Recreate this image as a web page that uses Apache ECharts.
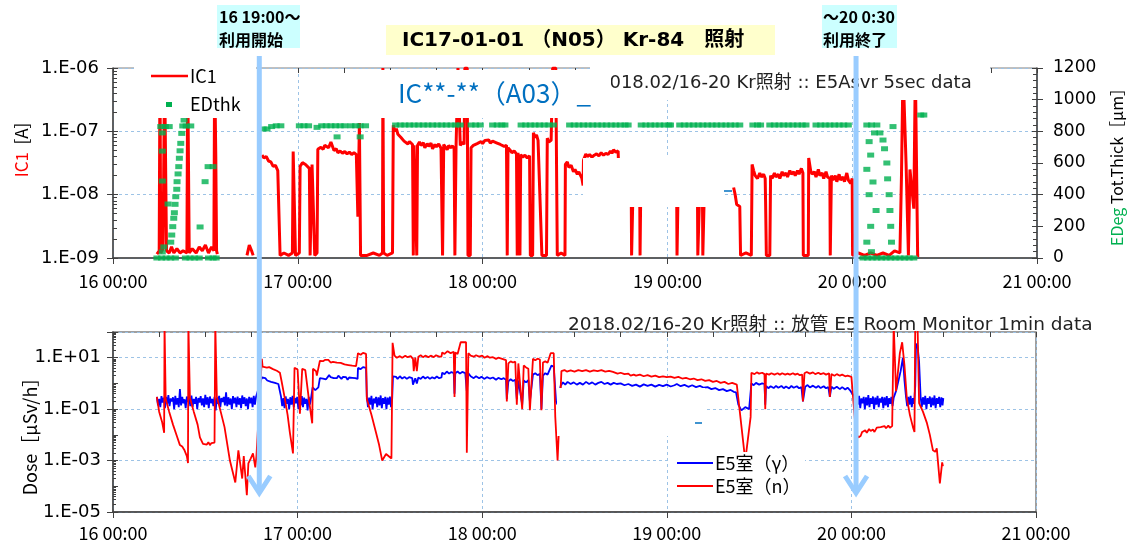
<!DOCTYPE html>
<html><head><meta charset="utf-8">
<script src="https://cdn.jsdelivr.net/npm/echarts@6/dist/echarts.min.js"></script>
<style>html,body{margin:0;padding:0;background:#fff}#c{width:1136px;height:546px}</style>
</head><body><div id="c"></div>
<script>
const FONT = '"Noto Sans CJK JP", "Noto Sans", sans-serif';
const LATIN = '"DejaVu Sans", "Noto Sans CJK JP", sans-serif';

// ---- tick labels ----
const xTickLabels = ['16 00:00','17 00:00','18 00:00','19 00:00','20 00:00','21 00:00'];
const icTickValues = [1e-9, 1e-8, 1e-7, 1e-6];
const icTickLabels = ['1.E-09','1.E-08','1.E-07','1.E-06'];
const doseTickValues = [1e-5, 1e-3, 1e-1, 1e1];
const doseTickLabels = ['1.E-05','1.E-03','1.E-01','1.E+01'];
const arrowTimes = [19, 96.5];   // hours after 16 00:00

// ---- data: [hours after 16 00:00, value] ----
const icCurrent = [
 [5.7,1.15e-9],[6.0,1.3e-9],[6.1,1e-6],[6.2,1.2e-9],[6.5,1.4e-9],[6.7,1e-6],[6.85,1e-6],[6.95,1.3e-9],[7.3,1.2e-9],[7.6,1.5e-9],[7.9,1.2e-9],[8.3,1.4e-9],[8.7,1.2e-9],[9.1,1.3e-9],[9.6,1.2e-9],[9.7,1e-6],[9.8,1e-6],[9.9,1.2e-9],[10.3,1.4e-9],[10.8,1.2e-9],[11.2,1.5e-9],[11.6,1.3e-9],[12.0,1.6e-9],[12.4,1.2e-9],[12.8,1.5e-9],[13.1,1.3e-9],[13.2,1e-6],[13.35,4e-8],[13.45,1.3e-9],[13.55,1.15e-9],[13.6,null],
 [17.4,1.1e-9],[17.7,1.6e-9],[18.0,1.3e-9],[18.2,1.1e-9],[18.3,null],
 [19.35,4.2e-8],[19.6,3.8e-8],[19.9,4.0e-8],[20.2,3.4e-8],[20.5,3.3e-8],[20.8,2.8e-8],[21.1,2.9e-8],[21.4,2.4e-8],[21.65,2.3e-8],[21.7,1.1e-9],[22.2,1.2e-9],[22.8,1.1e-9],[23.3,1.2e-9],[23.4,4.8e-8],[23.6,4.5e-8],[23.7,1.1e-9],[24.2,1.2e-9],[24.3,2.8e-8],[24.6,3.2e-8],[25.0,3.0e-8],[25.5,2.6e-8],[25.6,1.1e-9],[25.8,1.1e-9],[25.85,3.0e-8],[26.1,2.9e-8],[26.2,1.1e-9],[26.5,1.2e-9],[26.6,5.2e-8],[27.0,5.6e-8],[27.3,5.2e-8],[27.5,6.0e-8],[28.0,5.5e-8],[28.3,6.8e-8],[28.7,5.0e-8],[29.0,5.3e-8],[29.2,4.6e-8],[29.5,4.9e-8],[29.8,4.5e-8],[30.1,4.8e-8],[30.4,4.4e-8],[30.7,4.7e-8],[31.0,4.3e-8],[31.3,4.6e-8],[31.6,4.3e-8],[31.8,4.5e-9],[32.0,1.35e-7],[32.15,1.1e-9],[33.0,1.1e-9],[33.8,1.2e-9],[34.6,1.1e-9],[35.0,1.2e-9],[35.05,1e-6],[35.15,1.2e-9],[35.6,1.1e-9],[36.3,1.2e-9],
 [36.4,1.25e-7],[36.6,1.0e-7],[36.8,1.1e-7],[37.0,9.0e-8],[37.2,9.5e-8],[37.4,8.0e-8],[37.6,8.5e-8],[37.8,7.0e-8],[38.0,7.5e-8],[38.3,6.3e-8],[38.5,6.9e-8],[38.9,6.2e-8],[39.0,1.1e-9],[39.1,6.0e-8],[39.45,1.1e-9],[39.55,6.0e-8],[39.8,6.8e-8],[40.0,6.0e-8],[40.3,6.6e-8],[40.5,5.5e-8],[40.8,6.4e-8],[41.0,5.8e-8],[41.3,6.5e-8],[41.5,5.3e-8],[41.8,6.2e-8],[42.0,5.7e-8],[42.3,6.3e-8],[42.6,5.4e-8],[42.8,1.1e-9],[42.95,6.2e-8],[43.2,5.6e-8],[43.4,5.1e-8],[43.6,6.0e-8],[43.8,5.5e-8],[44.1,5.9e-8],[44.3,5.3e-8],[44.4,1.1e-9],[44.55,5.6e-8],[44.8,1e-6],[45.0,1e-6],[45.1,6.0e-8],[45.4,6.8e-8],[45.6,6.2e-8],[45.7,1e-6],[46.0,1e-6],[46.1,1.1e-9],[46.4,1.1e-9],[46.5,5.5e-8],[46.8,6.0e-8],[47.0,5.6e-8],[47.3,6.4e-8],[47.5,6.0e-8],[47.8,6.9e-8],[48.0,6.4e-8],[48.3,7.2e-8],[48.5,6.7e-8],[48.8,7.3e-8],[49.0,6.5e-8],[49.3,7.0e-8],[49.5,7.4e-8],[49.8,6.6e-8],[50.0,7.0e-8],[50.3,6.2e-8],[50.5,6.6e-8],[50.8,5.8e-8],[51.1,6.0e-8],[51.2,1.1e-9],[51.3,5.5e-8],[51.6,5.0e-8],[51.8,4.6e-8],[52.1,4.9e-8],[52.4,4.4e-8],[52.5,1.1e-9],[52.6,4.6e-8],[52.85,1.1e-9],[52.95,4.3e-8],[53.2,3.9e-8],[53.5,4.2e-8],[53.8,3.8e-8],[54.1,4.1e-8],[54.2,1.1e-9],[54.5,1.1e-9],[54.6,9.5e-8],[54.8,8.0e-8],[55.0,8.8e-8],[55.2,7.2e-8],[55.4,7.6e-8],[55.7,1.1e-9],[56.3,1.1e-9],[56.4,7.8e-8],[56.6,6.8e-8],[56.9,7.2e-8],[57.1,1e-6],[57.5,1e-6],[57.7,1.1e-9],[58.2,1.2e-9],[58.7,1.1e-9],[58.75,3.0e-8],[59.0,3.3e-8],[59.2,2.7e-8],[59.5,2.9e-8],[59.8,2.3e-8],[60.0,2.5e-8],[60.3,2.1e-8],[60.5,2.3e-8],[60.9,1.8e-8],[61.05,1.4e-8],[61.1,3.5e-8],[61.4,4.4e-8],[61.6,4.0e-8],[61.9,4.3e-8],[62.2,3.9e-8],[62.5,4.2e-8],[62.8,4.4e-8],[63.1,4.1e-8],[63.4,4.6e-8],[63.7,4.2e-8],[64.0,4.5e-8],[64.3,4.3e-8],[64.6,4.9e-8],[64.8,4.5e-8],[65.0,5.1e-8],[65.3,4.7e-8],[65.6,4.9e-8],[65.7,2.0e-8],[67.3,1.5e-8],[67.35,1.1e-9],[67.5,1.1e-9],[67.55,1.5e-8],[68.4,1.5e-8],[68.45,1.1e-9],[68.55,1.5e-8],[73.2,1.4e-8],[73.25,1.1e-9],[73.4,1.4e-8],[75.9,1.3e-8],[75.95,1.1e-9],[76.2,1.2e-8],[76.55,1.2e-8],[76.6,1.1e-9],[76.8,1.2e-8],[79.0,1.2e-8],[79.2,null],
 [80.6,1.3e-8],[80.8,1.0e-8],[81.0,7e-9],[81.4,6.5e-9],[81.5,1.1e-9],[82.2,1.2e-9],[82.9,1.1e-9],[83.0,3.0e-8],[83.2,2.4e-8],[83.4,2.0e-8],[83.7,1.8e-8],[84.0,2.2e-8],[84.2,1.9e-8],[84.5,2.1e-8],[84.7,1.8e-8],[84.75,8e-9],[84.85,1.1e-9],[85.3,1.1e-9],[85.4,2.0e-8],[85.6,1.8e-8],[85.9,2.2e-8],[86.1,1.9e-8],[86.4,2.1e-8],[86.6,1.8e-8],[86.9,2.3e-8],[87.1,2.0e-8],[87.4,2.2e-8],[87.6,1.9e-8],[87.9,2.4e-8],[88.1,2.1e-8],[88.4,2.3e-8],[88.6,2.0e-8],[88.9,2.4e-8],[89.1,2.1e-8],[89.4,2.6e-8],[89.6,2.2e-8],[89.65,1.1e-9],[90.3,1.1e-9],[90.35,3.8e-8],[90.6,2.4e-8],[90.8,2.1e-8],[91.1,2.3e-8],[91.3,1.9e-8],[91.6,2.5e-8],[91.8,2.0e-8],[92.1,2.2e-8],[92.3,1.8e-8],[92.6,2.3e-8],[92.8,1.9e-8],[93.1,1.8e-8],[93.15,1.1e-9],[93.3,2.0e-8],[93.5,1.7e-8],[93.8,2.0e-8],[94.0,1.6e-8],[94.3,2.1e-8],[94.5,1.7e-8],[94.8,1.9e-8],[95.0,1.6e-8],[95.3,2.2e-8],[95.5,1.7e-8],[95.8,1.5e-8],[96.0,1.8e-8],[96.05,1.1e-9],[96.8,1.2e-9],[97.6,1.1e-9],[98.4,1.2e-9],[99.2,1.1e-9],[100.0,1.2e-9],[100.8,1.1e-9],[101.5,1.3e-9],[102.2,1.2e-9],[102.4,2e-8],[102.6,1e-6],[102.8,1e-6],[103.0,3e-8],[103.3,1.1e-9],[103.5,2.5e-8],[104.0,6e-9],[104.2,1e-6],[104.4,1e-6],[104.5,1.1e-9],[104.7,1.1e-9]
];

const edThickness = [
 [5.7,0],[6.3,0],[6.9,0],[7.5,0],[8.1,0],[9.4,0],[10.0,0],[10.6,0],[11.2,0],[12.4,0],[13.0,0],[13.4,0],
 [6.2,830],[6.8,830],[7.3,830],[6.4,790],[6.4,675],[6.4,486],[7.15,341],[6.4,38],[6.6,70],[7.5,100],
 [7.63,145],[7.76,198],[7.89,251],[7.97,286],[8.06,339],[8.15,387],[8.28,434],[8.32,482],[8.45,531],[8.54,577],[8.62,630],[8.71,677],[8.8,724],[8.93,787],[9.06,834],[9.23,871],[9.5,834],[10.1,834],
 [11.31,196],[11.96,482],[12.35,577],[13.0,577],
 [19.5,815],[20.0,815],[20.6,830],[21.2,835],[21.8,835],
 [24.2,835],[24.8,835],[25.4,835],
 [26.5,825],[27.1,835],[27.7,835],[28.3,835],[28.9,835],[29.5,835],[30.1,835],[29.1,765],
 [30.9,835],[31.5,835],[32.1,835],[32.8,835],[32.1,765],
 [36.7,840],[37.3,840],[37.9,840],[38.5,840],[39.1,840],[39.7,840],[40.3,840],[40.9,840],[41.5,840],[42.1,840],[42.7,840],[43.3,840],[43.9,840],[44.5,840],[45.1,840],
 [46.5,840],[47.1,840],[47.7,840],
 [49.3,840],[49.9,840],[50.5,840],[50.9,840],
 [53.0,840],[53.6,840],[54.2,840],[54.8,840],[55.4,840],[56.0,840],[56.6,840],[57.2,840],
 [59.3,840],[59.9,840],[60.5,840],[61.1,840],[61.7,840],[62.3,840],[62.9,840],[63.5,840],[64.1,840],[64.7,840],[65.3,840],[65.9,840],[66.5,840],[66.9,840],
 [68.6,840],[69.2,840],[69.8,840],[70.4,840],[71.0,840],[71.6,840],[72.2,840],[72.4,840],
 [73.6,840],[74.2,840],[74.8,840],[75.4,840],[76.0,840],[76.6,840],[77.2,840],[77.8,840],[78.4,840],[79.0,840],[79.6,840],[80.2,840],[80.8,840],[81.4,840],
 [83.1,840],[83.7,840],[84.1,840],
 [85.3,840],[85.9,840],[86.5,840],[87.1,840],[87.7,840],[88.3,840],[88.9,840],[89.5,840],[90.0,840],
 [91.3,840],[91.9,840],[92.5,840],[93.1,840],[93.7,840],[94.3,840],[94.9,840],[95.5,840],
 [97.9,840],[98.5,840],[99.2,840],[98.9,790],[99.6,790],[98.2,735],[98.4,650],[97.9,560],[98.7,480],[98.2,400],[99.1,300],[98.4,200],[97.9,100],[98.5,40],
 [97.4,0],[98.0,0],[98.6,0],[99.2,0],[99.8,0],[100.4,0],[101.0,0],[101.6,0],[102.2,0],[102.8,0],[103.4,0],[104.0,0],
 [100.0,745],[100.2,690],[100.5,600],[100.6,500],[100.8,400],[100.9,300],[101.0,200],[101.1,100],[101.3,830],[104.9,903],[105.3,903]
];

const doseGamma = [
 [5.70,0.3],[5.85,0.14],[6.00,0.25],[6.15,0.12],[6.30,0.32],[6.45,0.18],[6.60,0.28],[6.75,0.11],[6.90,0.3],[7.05,0.16],
 [7.20,0.35],[7.35,0.13],[7.50,0.26],[7.65,0.2],[7.80,0.29],[7.95,0.1],[8.10,0.33],[8.25,0.15],[8.40,0.27],[8.55,0.12],
 [8.70,0.6],[8.85,0.14],[9.00,0.3],[9.15,0.17],[9.30,0.24],[9.45,0.11],[9.60,0.31],[9.75,0.19],[9.90,0.28],[10.05,0.13],
 [10.20,0.34],[10.35,0.12],[10.50,0.25],[10.65,0.16],[10.80,0.3],[10.95,0.1],[11.10,0.27],[11.25,0.18],[11.40,0.32],[11.55,0.14],
 [11.70,0.26],[11.85,0.12],[12.00,0.36],[12.15,0.15],[12.30,0.29],[12.45,0.11],[12.60,0.31],[12.75,0.17],[12.90,0.25],[13.05,0.13],
 [13.20,0.3],[13.35,0.09],[13.50,0.28],[13.65,0.16],[13.80,0.33],[13.95,0.12],[14.10,0.27],[14.25,0.19],[14.40,0.3],[14.55,0.14],
 [14.70,0.45],[14.85,0.13],[15.00,0.29],[15.15,0.15],[15.30,0.26],[15.45,0.1],[15.60,0.32],[15.75,0.17],[15.90,0.28],[16.05,0.12],
 [16.20,0.31],[16.35,0.15],[16.50,0.27],[16.65,0.11],[16.80,0.34],[16.95,0.16],[17.10,0.29],[17.25,0.13],[17.40,0.26],[17.55,0.1],
 [17.70,0.3],[17.85,0.17],[18.00,0.28],[18.15,0.12],[18.30,0.33],[18.45,0.15],[18.60,0.3],
 [19.35,1.7],[19.6,1.45],[19.8,1.6],[20.05,1.3],[20.3,1.45],[20.55,1.15],[20.8,1.3],[21.05,1.05],[21.3,1.15],[21.5,0.95],[21.7,1.0],
 [21.85,0.3],[22.00,0.13],[22.15,0.27],[22.30,0.11],[22.45,0.31],[22.60,0.16],[22.75,0.25],[22.90,0.1],[23.05,0.29],[23.20,0.15],[23.35,0.33],[23.50,0.12],[23.65,0.27],[23.80,0.17],[23.95,0.3],[24.10,0.1],[24.25,0.26],[24.40,0.14],[24.55,0.32],[24.70,0.12],[24.85,0.28],[25.00,0.16],[25.15,0.25],[25.30,0.09],[25.45,0.3],[25.60,0.15],[25.75,0.27],
 [25.95,0.7],[26.3,0.55],[26.7,0.7],[26.9,1.6],[27.1,1.9],[27.3,1.55],[27.5,1.8],[27.7,1.45],[27.9,1.7],[28.1,2.1],[28.3,1.75],[28.5,1.95],[28.7,1.6],[28.9,1.85],[29.1,1.6],[29.3,2.0],[29.5,1.7],[29.7,1.5],[29.9,1.8],[30.1,1.55],[30.3,1.75],[30.5,1.4],[30.7,1.7],[30.9,1.5],[31.1,1.65],[31.3,1.4],[31.5,1.6],[31.8,1.5],[31.85,4.0],[32.2,3.6],[32.5,4.3],[32.9,4.0],
 [33.00,0.3],[33.15,0.12],[33.30,0.28],[33.45,0.15],[33.60,0.33],[33.75,0.1],[33.90,0.26],[34.05,0.17],[34.20,0.3],[34.35,0.12],[34.50,0.29],[34.65,0.14],[34.80,0.34],[34.95,0.11],[35.10,0.27],[35.25,0.16],[35.40,0.3],[35.55,0.1],[35.70,0.28],[35.85,0.15],[36.00,0.31],[36.15,0.12],[36.30,0.27],
 [36.4,1.9],[36.6,1.6],[36.8,1.8],[37.0,1.5],[37.3,1.9],[37.6,1.55],[37.9,1.8],[38.2,1.5],[38.5,1.75],[38.9,1.6],[39.0,0.9],[39.3,1.6],[39.5,1.0],[39.7,1.7],[40.0,1.5],[40.3,1.85],[40.6,1.55],[40.9,1.8],[41.2,1.5],[41.5,1.75],[41.8,1.55],[42.1,1.85],[42.4,1.6],[42.7,1.7],[42.8,2.6],[43.1,2.3],[43.4,2.9],[43.7,2.4],[44.0,2.8],[44.3,2.5],[44.4,0.4],[44.5,2.5],[44.8,2.9],[45.1,2.4],[45.4,2.8],[45.8,2.5],[46.0,0.5],[46.2,2.5],[46.5,1.9],[46.9,1.6],[47.2,1.9],[47.6,1.6],[47.9,1.8],[48.3,1.5],[48.6,1.75],[49.0,1.55],[49.4,1.7],[49.8,1.4],[50.1,1.65],[50.5,1.45],[50.8,1.6],[51.1,1.4],[51.2,0.25],[51.4,1.2],[51.7,1.45],[52.0,1.25],[52.3,1.4],[52.5,0.25],[52.7,1.3],[52.9,1.1],[53.2,0.15],[53.4,1.3],[53.7,1.1],[54.0,1.35],[54.2,0.2],[54.6,2.2],[54.9,2.5],[55.2,2.1],[55.5,2.4],[55.7,0.1],[55.9,2.0],[56.2,2.5],[56.5,2.2],[57.0,4.9],[57.3,4.5],[57.6,0.2],[57.8,0.15],
 [58.2,0.8],[58.5,1.1],[58.8,0.9],[59.1,1.15],[59.5,0.95],[59.9,1.1],[60.3,0.9],[60.7,1.05],[61.1,0.9],[61.5,1.15],[61.9,0.95],[62.3,1.1],[62.7,0.9],[63.1,1.05],[63.5,1.15],[63.9,0.95],[64.3,1.05],[64.7,0.9],[65.1,1.05],[65.5,0.95],[66.0,1.0],[66.5,0.85],[67.0,0.95],[67.5,0.8],[68.0,0.9],[68.5,0.75],[69.0,0.92],[69.5,0.8],[70.0,0.9],[70.5,0.75],[71.0,0.88],[71.5,0.78],[72.0,0.9],[72.5,0.76],[73.0,0.85],[73.3,0.95],[73.8,0.78],[74.3,0.88],[74.8,0.74],[75.3,0.85],[75.8,0.72],[76.3,0.8],[76.8,0.68],[77.3,0.72],[77.8,0.6],[78.3,0.66],[78.8,0.55],[79.3,0.6],[79.8,0.5],[80.3,0.56],[80.7,0.47],[81.0,0.45],[81.3,0.15],[81.7,0.09],[82.2,0.12],[82.7,0.1],
 [83.0,1.0],[83.3,0.85],[83.6,1.05],[84.0,0.9],[84.4,1.0],[84.7,0.95],[84.8,0.15],[84.9,0.8],[85.2,0.65],[85.5,0.78],[85.9,0.66],[86.2,0.8],[86.5,0.68],[86.9,0.8],[87.2,0.65],[87.5,0.76],[87.9,0.64],[88.2,0.8],[88.5,0.68],[88.9,0.78],[89.2,0.65],[89.5,0.72],[89.7,0.2],[90.0,0.75],[90.3,0.86],[90.6,0.7],[91.0,0.82],[91.4,0.68],[91.7,0.8],[92.0,0.66],[92.4,0.78],[92.7,0.65],[93.0,0.72],[93.2,0.3],[93.4,0.75],[93.7,0.62],[94.1,0.74],[94.5,0.6],[94.8,0.72],[95.2,0.58],[95.5,0.68],[95.8,0.55],[96.0,0.6],
 [96.40,0.3],[96.55,0.12],[96.70,0.28],[96.85,0.15],[97.00,0.33],[97.15,0.11],[97.30,0.26],[97.45,0.17],[97.60,0.3],[97.75,0.1],[97.90,0.29],[98.05,0.14],[98.20,0.35],[98.35,0.12],[98.50,0.27],[98.65,0.16],[98.80,0.31],[98.95,0.1],[99.10,0.28],[99.25,0.15],[99.40,0.33],[99.55,0.12],[99.70,0.26],[99.85,0.18],[100.00,0.3],[100.15,0.11],[100.30,0.29],[100.45,0.14],[100.60,0.32],[100.75,0.12],[100.90,0.27],[101.05,0.16],[101.20,0.3],[101.35,0.13],[101.50,0.28],
 [101.8,0.5],[102.1,1.2],[102.4,3],[102.7,10],[102.9,1.3],[103.1,0.3],
 [103.25,0.13],[103.40,0.3],[103.55,0.15],[103.70,0.33],[103.85,0.12],[104.00,0.27],[104.15,0.16],[104.3,0.8],[104.4,35],[104.6,29],[104.8,7],[105.0,0.3],
 [105.15,0.12],[105.30,0.29],[105.45,0.15],[105.60,0.33],[105.75,0.1],[105.90,0.27],[106.05,0.16],[106.20,0.31],[106.35,0.12],[106.50,0.28],[106.65,0.14],[106.80,0.34],[106.95,0.11],[107.10,0.27],[107.25,0.16],[107.40,0.3],[107.55,0.12],[107.70,0.29],[107.85,0.14],[107.95,0.27]
];

const doseNeutron = [
 [5.7,0.3],[6.0,0.08],[6.4,0.03],[6.65,0.012],[6.7,200],[6.8,200],[6.85,0.25],[7.3,0.08],[7.8,0.025],[8.3,0.009],[8.7,0.004],[9.0,0.0035],[9.3,0.0025],[9.6,0.0015],[9.75,8e-4],[9.8,200],[9.9,200],[10.0,0.28],[10.5,0.08],[11.0,0.025],[11.3,0.008],[11.5,0.006],[11.7,0.0045],[11.9,0.005],[12.2,0.0042],[12.4,0.0052],[12.6,0.004],[12.8,0.0048],[13.0,0.0042],[13.2,0.005],[13.3,200],[13.4,200],[13.5,0.3],[14.0,0.08],[14.5,0.02],[15.2,1e-3],[15.9,1.4e-4],[16.3,0.0025],[16.8,2e-4],[17.0,1.5e-3],[17.4,4.5e-5],[17.6,7.8e-4],[17.9,1.2e-3],[18.2,1.9e-3],[18.5,5.4e-4],[18.65,1.5e-3],
 [19.35,9],[19.45,4.5],[19.7,4.8],[20.0,4.1],[20.3,4.3],[20.5,3.7],[20.8,3.6],[21.0,3.2],[21.3,3.1],[21.5,2.8],[21.7,2.6],[21.9,1.3],[22.3,0.3],[22.7,0.06],[23.0,0.012],[23.4,0.0019],[23.6,4.1],[24.0,3.5],[24.3,0.067],[24.6,3.7],[25.0,3.3],[25.5,0.2],[25.9,0.028],[26.0,3.7],[26.4,3.0],[26.5,2.0],[26.9,7.6],[27.1,6.6],[27.3,7.3],[27.6,8.3],[27.8,7.6],[28.0,8.2],[28.3,6.5],[28.6,6.9],[28.8,6.0],[29.1,6.4],[29.3,5.8],[29.6,6.3],[29.8,5.9],[30.1,5.5],[30.3,5.8],[30.6,5.2],[30.8,5.4],[31.1,4.9],[31.3,5.1],[31.6,4.7],[31.8,4.8],[31.85,15],[32.2,13],[32.5,15.5],[32.9,14],[33.0,0.25],[33.6,0.06],[34.2,0.012],[34.6,0.004],[35.0,1e-3],[35.5,1.8e-3],[36.2,1.2e-3],[36.35,38],[36.6,12],
 [36.9,10],[37.3,11.5],[37.6,10],[38.0,12],[38.3,10.5],[38.7,11.5],[39.0,9],[39.1,3],[39.3,10],[39.5,3],[39.7,11],[40.0,12.5],[40.3,10.5],[40.6,12],[41.0,10.5],[41.3,12],[41.7,10.5],[42.0,12.5],[42.4,11],[42.7,11],[42.8,16],[43.1,14],[43.5,18],[43.9,15],[44.3,17],[44.4,0.3],[44.5,16],[44.8,14],[45.2,40],[45.9,40],[46.0,0.002],[46.2,15],[46.5,12],[46.9,11],[47.2,12.5],[47.6,11],[48.0,12],[48.3,10],[48.7,11.5],[49.0,10],[49.4,10.5],[49.8,9],[50.1,10],[50.5,9.2],[50.8,8.6],[51.1,8],[51.2,0.2],[51.4,6],[51.7,7.2],[52.0,6.5],[52.3,7],[52.5,0.15],[52.7,6],[52.9,5.2],[53.2,0.1],[53.4,5],[53.7,4.2],[54.0,3.7],[54.2,0.09],[54.6,9],[54.9,8],[55.2,9.2],[55.5,8.5],[55.7,0.09],[55.9,6.5],[56.2,7.2],[56.5,6.4],[56.9,15],[57.3,15],[57.5,0.05],[57.8,1e-3],
 [58.3,3],[58.7,3.3],[59.0,2.9],[59.5,3.2],[60.0,2.9],[60.5,3.3],[61.0,3.0],[61.5,3.3],[62.0,2.9],[62.5,3.2],[63.0,3.0],[63.5,3.3],[64.0,2.9],[64.5,3.1],[65.0,2.8],[65.6,2.4],[66.0,2.6],[66.5,2.3],[67.0,2.4],[67.3,2.0],[67.7,2.2],[68.0,2.0],[68.5,2.2],[69.0,1.9],[69.5,2.1],[70.0,1.85],[70.5,2.0],[71.0,1.75],[71.5,1.9],[72.0,1.75],[72.5,1.85],[73.0,1.65],[73.5,1.8],[74.0,1.55],[74.5,1.65],[75.0,1.45],[75.5,1.55],[76.0,1.35],[76.5,1.45],[77.0,1.25],[77.5,1.35],[78.0,1.15],[78.5,1.25],[79.0,1.05],[79.5,1.15],[80.0,0.95],[80.5,1.05],[81.1,0.9],[82.2,1e-3],[82.9,0.05],[83.0,2.6],[83.4,2.3],[83.7,2.7],[84.0,2.4],[84.4,2.6],[84.7,2.3],[84.8,0.1],[84.9,2.4],[85.3,2.2],[85.6,2.5],[86.0,2.2],[86.4,2.5],[86.7,2.2],[87.0,2.5],[87.4,2.2],[87.7,2.4],[88.0,2.2],[88.4,2.5],[88.7,2.2],[89.0,2.4],[89.3,2.1],[89.6,2.2],[89.7,0.2],[89.9,2.5],[90.2,2.8],[90.6,2.4],[91.0,2.7],[91.3,2.3],[91.7,2.6],[92.0,2.3],[92.4,2.5],[92.7,2.2],[93.1,2.5],[93.2,0.3],[93.4,2.3],[93.8,2.0],[94.1,2.3],[94.5,2.0],[94.8,2.2],[95.2,1.9],[95.5,2.0],[96.0,1.8],
 [96.6,0.012],[96.9,0.008],[97.2,0.009],[97.4,0.013],[97.6,0.011],[97.8,0.015],[98.0,0.012],[98.3,0.017],[98.5,0.014],[98.8,0.016],[99.0,0.013],[99.3,0.019],[99.5,0.016],[99.8,0.02],[100.0,0.017],[100.3,0.022],[100.5,0.018],[100.8,0.023],[101.0,0.019],[101.3,0.022],[101.5,200],[101.8,0.5],[102.3,15],[102.6,40],[102.9,5],[103.2,0.28],[103.6,0.06],[104.0,0.02],[104.2,0.013],[104.3,200],[104.6,200],[104.8,0.17],[105.3,0.08],[105.8,0.03],[106.2,0.01],[106.6,0.0025],[106.9,0.0022],[107.1,0.003],[107.5,1.3e-4],[107.8,8.5e-4],[107.9,6e-4]
];

// ---- helpers ----
function logLabel(values, labels) {
  return function (v) {
    const i = values.findIndex(t => Math.abs(Math.log10(t) - Math.log10(v)) < 0.01);
    return i >= 0 ? labels[i] : '';
  };
}
const AX = '#404040';
const GRID_LINE = { show: true, lineStyle: { color: '#9dc3e6', type: [3, 3], width: 1 } };
function mainX(gridIndex, margin) {
  return { type: 'value', gridIndex, min: 0, max: 120, interval: 24,
    axisLine: { show: true, onZero: false, lineStyle: { color: AX, width: 1.5 } },
    axisTick: { show: true, length: 6, lineStyle: { color: AX } },
    axisLabel: { formatter: v => xTickLabels[Math.round(v / 24)] || '', color: '#000', fontSize: 18, fontFamily: FONT, margin },
    splitLine: GRID_LINE };
}
function minorX(gridIndex) {
  return { type: 'value', gridIndex, min: 0, max: 120, interval: 6,
    axisLine: { show: false, onZero: false }, axisTick: { show: true, inside: true, length: 5, lineStyle: { color: AX } },
    axisLabel: { show: false }, splitLine: { show: false } };
}

const option = {
  animation: false,
  backgroundColor: '#fff',
  grid: [
    { left: 113, top: 68, width: 924, height: 190, show: true, borderColor: '#808080', borderWidth: 1 },
    { left: 113, top: 332, width: 923, height: 180, show: true, borderColor: '#808080', borderWidth: 1.5 }
  ],
  xAxis: [ mainX(0, 14), minorX(0), mainX(1, 12), minorX(1) ],
  yAxis: [
    { type: 'log', gridIndex: 0, position: 'left', min: 1e-9, max: 1e-6,
      axisLine: { show: true, onZero: false, lineStyle: { color: AX, width: 1.5 } },
      axisTick: { show: true, length: 6, lineStyle: { color: AX } },
      axisLabel: { formatter: logLabel(icTickValues, icTickLabels), color: '#000', fontSize: 18, fontFamily: LATIN, margin: 14 },
      splitLine: GRID_LINE },
    { type: 'value', gridIndex: 0, position: 'right', min: 0, max: 1200, interval: 200,
      axisLine: { show: true, onZero: false, lineStyle: { color: AX, width: 1.5 } },
      axisTick: { show: true, length: 6, lineStyle: { color: AX } },
      axisLabel: { formatter: v => String(v), color: '#000', fontSize: 17, fontFamily: LATIN, margin: 16 },
      splitLine: { show: false } },
    { type: 'log', gridIndex: 0, position: 'left', min: 1e-9, max: 1e-6,
      axisLine: { show: false, onZero: false }, axisLabel: { show: false }, splitLine: { show: false },
      axisTick: { show: true, inside: true, length: 5, lineStyle: { color: AX } },
      minorTick: { show: true, splitNumber: 9, length: 4, lineStyle: { color: AX } } },
    { type: 'value', gridIndex: 0, position: 'right', min: 0, max: 1200, interval: 200,
      axisLine: { show: false, onZero: false }, axisLabel: { show: false }, splitLine: { show: false },
      axisTick: { show: true, inside: true, length: 5, lineStyle: { color: AX } },
      minorTick: { show: true, splitNumber: 5, length: 4, lineStyle: { color: AX } } },
    { type: 'log', gridIndex: 1, position: 'left', min: 1e-5, max: 100, interval: 2,
      axisLine: { show: true, onZero: false, lineStyle: { color: AX, width: 1.5 } },
      axisTick: { show: true, length: 6, lineStyle: { color: AX } },
      axisLabel: { formatter: logLabel(doseTickValues, doseTickLabels), color: '#000', fontSize: 18, fontFamily: LATIN, margin: 12 },
      splitLine: GRID_LINE },
    { type: 'log', gridIndex: 1, position: 'left', min: 1e-5, max: 100, interval: 1,
      axisLine: { show: false, onZero: false }, axisLabel: { show: false }, splitLine: { show: false },
      axisTick: { show: true, inside: true, length: 5, lineStyle: { color: AX } },
      minorTick: { show: true, splitNumber: 9, length: 3, lineStyle: { color: AX } } }
  ],
  series: [
    { name: 'IC1', type: 'line', xAxisIndex: 0, yAxisIndex: 0, data: icCurrent, showSymbol: false, symbol: 'none',
      lineStyle: { color: '#ff0000', width: 3 }, connectNulls: false, z: 3 },
    { name: 'EDthk', type: 'scatter', xAxisIndex: 0, yAxisIndex: 1, data: edThickness, symbol: 'rect', symbolSize: [7, 5],
      itemStyle: { color: '#00b050' }, z: 4 },
    { name: 'E5室（γ）', type: 'line', xAxisIndex: 2, yAxisIndex: 4, data: doseGamma, showSymbol: false, symbol: 'none',
      lineStyle: { color: '#0000ff', width: 1.8 }, z: 3 },
    { name: 'E5室（n）', type: 'line', xAxisIndex: 2, yAxisIndex: 4, data: doseNeutron, showSymbol: false, symbol: 'none',
      lineStyle: { color: '#ff0000', width: 1.8 }, z: 4 }
  ]
};

const chart = echarts.init(document.getElementById('c'));
chart.setOption(option);

function txt(x, y, text, o) {
  o = o || {};
  return { type: 'text', x, y, z: o.z || 45, rotation: o.rotation || 0,
    style: Object.assign({ text, fill: o.fill || '#000', fontSize: o.size || 18, fontFamily: o.family || FONT,
      fontWeight: o.weight || 'normal', align: o.align || 'left', verticalAlign: o.va || 'middle',
      textAlign: o.align || 'left', textVerticalAlign: o.va || 'middle', lineHeight: o.lh }, o.extra || {}) };
}
function rect(x, y, w, h, fill, z) {
  return { type: 'rect', z: z || 40, shape: { x, y, width: w, height: h }, style: { fill, stroke: null } };
}
function line(x1, y1, x2, y2, color, w, z) {
  return { type: 'line', z: z || 45, shape: { x1, y1, x2, y2 }, style: { stroke: color, lineWidth: w } };
}

const els = [];
// masks over data
els.push(rect(583, 158, 140, 49, '#fff', 40));
els.push(rect(557, 388, 148, 48, '#fff', 40));
els.push(line(724, 191, 732, 191, '#0070c0', 1.5, 41));
els.push(line(695, 423, 702, 423, '#0070c0', 1.5, 41));
// top legend
els.push(rect(134, 60, 122, 58, '#fff', 40));
els.push(line(151, 76, 188, 76, '#ff0000', 2.5, 41));
els.push(txt(190, 76, 'IC1', { size: 18, z: 41 }));
els.push(rect(166, 102, 6, 5, '#00b050', 41));
els.push(txt(190, 104, 'EDthk', { size: 18, z: 41 }));
// bottom legend
els.push(rect(670, 452, 135, 44, '#fff', 40));
els.push(line(677, 463, 713, 463, '#0000ff', 1.8, 41));
els.push(txt(715, 463, 'E5室（γ）', { size: 18, z: 41 }));
els.push(line(677, 486, 713, 486, '#ff0000', 1.8, 41));
els.push(txt(715, 486, 'E5室（n）', { size: 18, z: 41 }));
// subtitles
els.push(rect(590, 60, 400, 40, '#fff', 40));
els.push(txt(598, 83, '2018.02/16-20 Kr照射 :: E5Asvr 5sec data', { size: 18, family: LATIN, z: 41, fill: '#222' }));
els.push(rect(380, 70, 231, 48, '#fff', 42));
els.push(txt(398, 93, 'IC**-**（A03）_', { size: 26, z: 43, fill: '#0070c0' }));
els.push(txt(568, 325, '2018.02/16-20 Kr照射 :: 放管 E5 Room Monitor 1min data', { size: 18.5, family: LATIN, z: 41, fill: '#222' }));
// title
els.push(rect(386, 25, 389, 30, '#ffffcc', 50));
els.push(txt(402, 41, 'IC17-01-01 （N05） Kr-84　照射', { size: 20, weight: 'bold', family: LATIN, z: 51 }));
// arrow labels
els.push(rect(217, 5, 83, 43, '#ccffff', 50));
els.push(txt(219, 5, '16 19:00～\n利用開始', { size: 16, weight: 'bold', va: 'top', lh: 23, z: 51 }));
els.push(rect(822, 5, 75, 43, '#ccffff', 50));
els.push(txt(823, 5, '～20 0:30\n利用終了', { size: 16, weight: 'bold', va: 'top', lh: 23, z: 51 }));
// axis titles
els.push(txt(22, 150, '{r|IC1}  [A]', { size: 17, rotation: Math.PI / 2, align: 'center', z: 41,
  extra: { rich: { r: { fill: '#ff0000', fontSize: 17, fontFamily: FONT } } } }));
els.push(txt(1117, 163, '{g|EDeg} Tot.Thick［μm］', { size: 16, rotation: Math.PI / 2, align: 'center', z: 41,
  extra: { rich: { g: { fill: '#00b050', fontSize: 16, fontFamily: FONT } } } }));
els.push(txt(30, 432, 'Dose［μSv/h］', { size: 18, rotation: Math.PI / 2, align: 'center', z: 41 }));
// arrows
arrowTimes.forEach(t => {
  const x = chart.convertToPixel({ xAxisIndex: 0 }, t);
  els.push(line(x, 56, x, 492, '#99ccff', 5, 60));
  els.push({ type: 'polyline', z: 60, shape: { points: [[x - 11, 476], [x, 493], [x + 11, 476]] },
    style: { stroke: '#99ccff', lineWidth: 5, fill: null, lineJoin: 'miter' } });
});
chart.setOption({ graphic: { elements: els } });
</script>
</body></html>
